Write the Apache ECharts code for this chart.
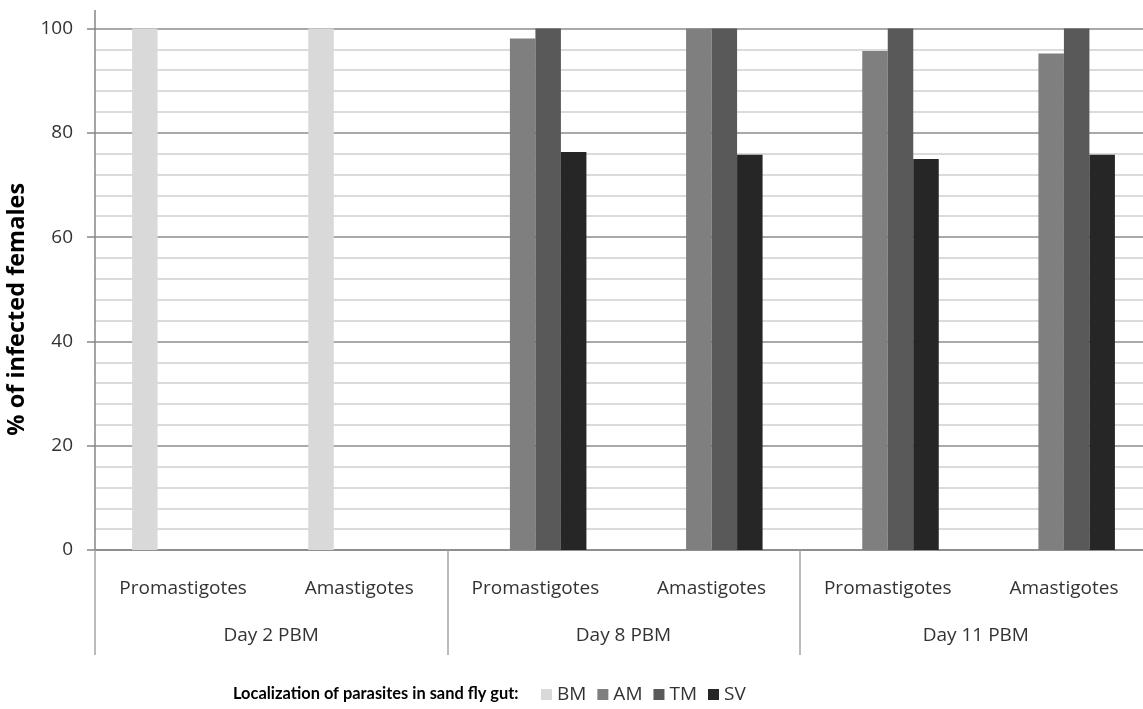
<!DOCTYPE html>
<html>
<head>
<meta charset="utf-8">
<script src="https://cdn.jsdelivr.net/npm/echarts@6/dist/echarts.min.js"></script>
<style>
html,body{margin:0;padding:0;background:#fff;}
#chart{width:1143px;height:709px;}
</style>
</head>
<body>
<div id="chart"></div>
<script>
// ---- data ----
const categories = ["Promastigotes", "Amastigotes", "Promastigotes", "Amastigotes", "Promastigotes", "Amastigotes"];
const groups = ["Day 2 PBM", "Day 8 PBM", "Day 11 PBM"];
const seriesNames = ["BM", "AM", "TM", "SV"];
const bmValues = [100, 100, 0, 0, 0, 0];
const amValues = [0, 0, 98.1, 100, 95.7, 95.2];
const tmValues = [0, 0, 100, 100, 100, 100];
const svValues = [0, 0, 76.3, 75.8, 75.0, 75.8];
const yTicks = [0, 20, 40, 60, 80, 100];
const yAxisTitle = "% of infected females";
const legendTitle = "Localization of parasites in sand fly gut:";

const colors = ["#d9d9d9", "#7f7f7f", "#595959", "#262626"];
const FONT = "'Open Sans', 'Noto Sans', sans-serif";
const NARROW = "'Lato', sans-serif";
const values = [bmValues, amValues, tmValues, svValues];

const chart = echarts.init(document.getElementById('chart'), null, {renderer: 'canvas'});
const option = {
  animation: false,
  backgroundColor: '#fff',
  textStyle: {fontFamily: FONT},
  title: {
    text: legendTitle,
    left: 228, top: 681,
    textStyle: {fontFamily: NARROW, fontSize: 16.4, fontWeight: 'bold', color: '#000'}
  },
  legend: {
    data: seriesNames,
    left: 536, top: 680,
    icon: 'rect',
    itemWidth: 11, itemHeight: 11, itemGap: 11,
    textStyle: {fontFamily: FONT, fontSize: 19, color: '#333'}
  },
  grid: {left: 95, top: 28.5, width: 1057, height: 521.5, containLabel: false, outerBoundsMode: 'none'},
  xAxis: [
    {
      type: 'category', data: categories, position: 'bottom',
      axisLine: {show: true, lineStyle: {color: '#868686', width: 1.5}},
      axisTick: {show: false},
      axisLabel: {interval: 0, margin: 29, fontFamily: FONT, fontSize: 19, color: '#333'}
    },
    {
      type: 'category', data: groups, position: 'bottom', offset: 0,
      axisLine: {show: false},
      axisTick: {show: true, length: 105, lineStyle: {color: '#a6a6a6', width: 1.5}},
      axisLabel: {interval: 0, margin: 76, fontFamily: FONT, fontSize: 19, color: '#333'},
      splitLine: {show: false}
    }
  ],
  yAxis: {
    type: 'value', min: 0, max: 100, interval: 20,
    name: yAxisTitle, nameLocation: 'middle', nameGap: 48, nameRotate: 90,
    nameTextStyle: {fontFamily: FONT, fontSize: 23.5, fontWeight: 'bold', color: '#000', padding: [0, 40, 0, 0]},
    axisLine: {show: true, lineStyle: {color: '#868686', width: 1.5}},
    axisTick: {show: true, length: 8, lineStyle: {color: '#868686', width: 1.5}},
    axisLabel: {margin: 22, fontFamily: FONT, fontSize: 19, color: '#333',
      formatter: v => yTicks.includes(v) ? String(v) : ''},
    splitLine: {show: true, lineStyle: {color: '#8c8c8c', width: 1.5}},
    minorTick: {show: false, splitNumber: 5},
    minorSplitLine: {show: true, lineStyle: {color: '#d0d0d0', width: 1.5}}
  },
  graphic: [
    {type: 'line', shape: {x1: 95, y1: 10, x2: 95, y2: 28.5}, style: {stroke: '#868686', lineWidth: 1.5}, silent: true}
  ],
  series: seriesNames.map((n, i) => ({
    name: n, type: 'bar', xAxisIndex: 0,
    data: values[i],
    barWidth: 25.5, barGap: '0%',
    itemStyle: {color: colors[i]}
  }))
};
chart.setOption(option);
</script>
</body>
</html>
